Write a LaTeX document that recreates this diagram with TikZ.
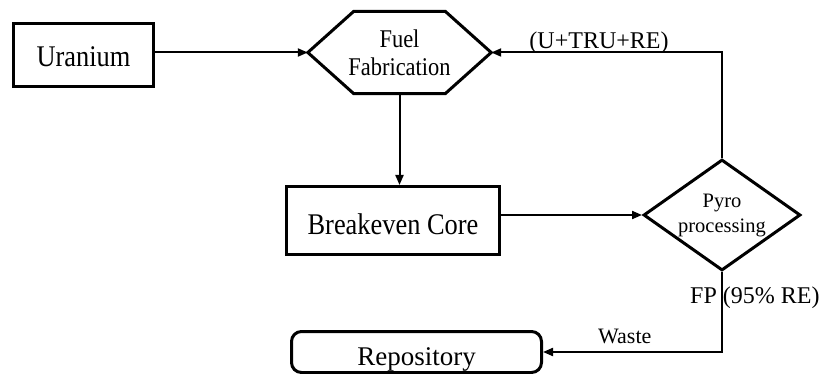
\documentclass[tikz,border=0pt]{standalone}
\usepackage{fontspec}
\setmainfont{Liberation Serif}
\newfontfamily\estreita{Liberation Serif}[FakeStretch=0.88]
\usetikzlibrary{shapes.geometric,arrows.meta}

\begin{document}
\begin{tikzpicture}[x=1pt, y=-1pt,
    caixa/.style={draw, line width=3pt, inner sep=0pt},
    fluxo/.style={line width=2pt, -{Triangle[length=10pt,width=8pt]}},
    rotulo/.style={inner sep=0pt, font=\fontsize{24}{26}\selectfont}]
    \useasboundingbox (0,0) rectangle (821,374); % Area da figura
    \node[caixa, minimum width=140pt, minimum height=63pt, text height=24pt, text depth=0pt, font=\estreita\fontsize{30}{32}\selectfont] (uranium) at (83.5,55) {Uranium}; % Caixa do uranio
    \node[inner sep=0pt, minimum width=183pt, minimum height=82pt, align=center, font=\estreita\fontsize{25.5}{28}\selectfont] (fuel) at (399.5,52.5) {Fuel\\Fabrication}; % Fabricacao
    \draw[line width=3pt] (fuel.west) -- ([xshift=46pt]fuel.north west) -- ([xshift=-46pt]fuel.north east) -- (fuel.east) -- ([xshift=-46pt]fuel.south east) -- ([xshift=46pt]fuel.south west) -- cycle; % Hexagono
    \node[caixa, minimum width=213pt, minimum height=68pt, text height=27pt, text depth=0pt, font=\estreita\fontsize{30}{32}\selectfont] (core) at (393,220.5) {Breakeven Core}; % Nucleo
    \node[caixa, diamond, aspect=1.4, minimum width=157pt, minimum height=111pt, align=center, font=\fontsize{20.5}{25}\selectfont] (pyro) at (722,215) {Pyro\\processing}; % Losango
    \node[caixa, rounded corners=10pt, minimum width=250pt, minimum height=41pt, text height=26pt, text depth=0pt, font=\fontsize{27}{30}\selectfont] (repo) at (416.5,352) {Repository}; % Deposito
    \draw[fluxo] (uranium.east |- fuel.west) -- (fuel.west); % Uranio para fabricacao
    \draw[fluxo] (fuel.south) -- (fuel.south |- core.north); % Fabricacao para nucleo
    \draw[fluxo] (core.east |- pyro.west) -- (pyro.west); % Nucleo para piro
    \draw[fluxo] (pyro.north) -- (pyro.north |- fuel.east) -- (fuel.east); % Retorno
    \draw[fluxo] (pyro.south) -- (pyro.south |- repo.east) -- (repo.east); % Rejeito
    \node[rotulo, anchor=base] (retorno) at (599,48.5) {(U+TRU+RE)}; % Rotulo do retorno
    \node[rotulo, anchor=base west] (fp) at (690,303) {FP (95\% RE)}; % Rotulo FP
    \node[rotulo, anchor=base west, font=\fontsize{22}{24}\selectfont] (waste) at (598,343) {Waste}; % Rotulo rejeito
\end{tikzpicture}
\end{document}
